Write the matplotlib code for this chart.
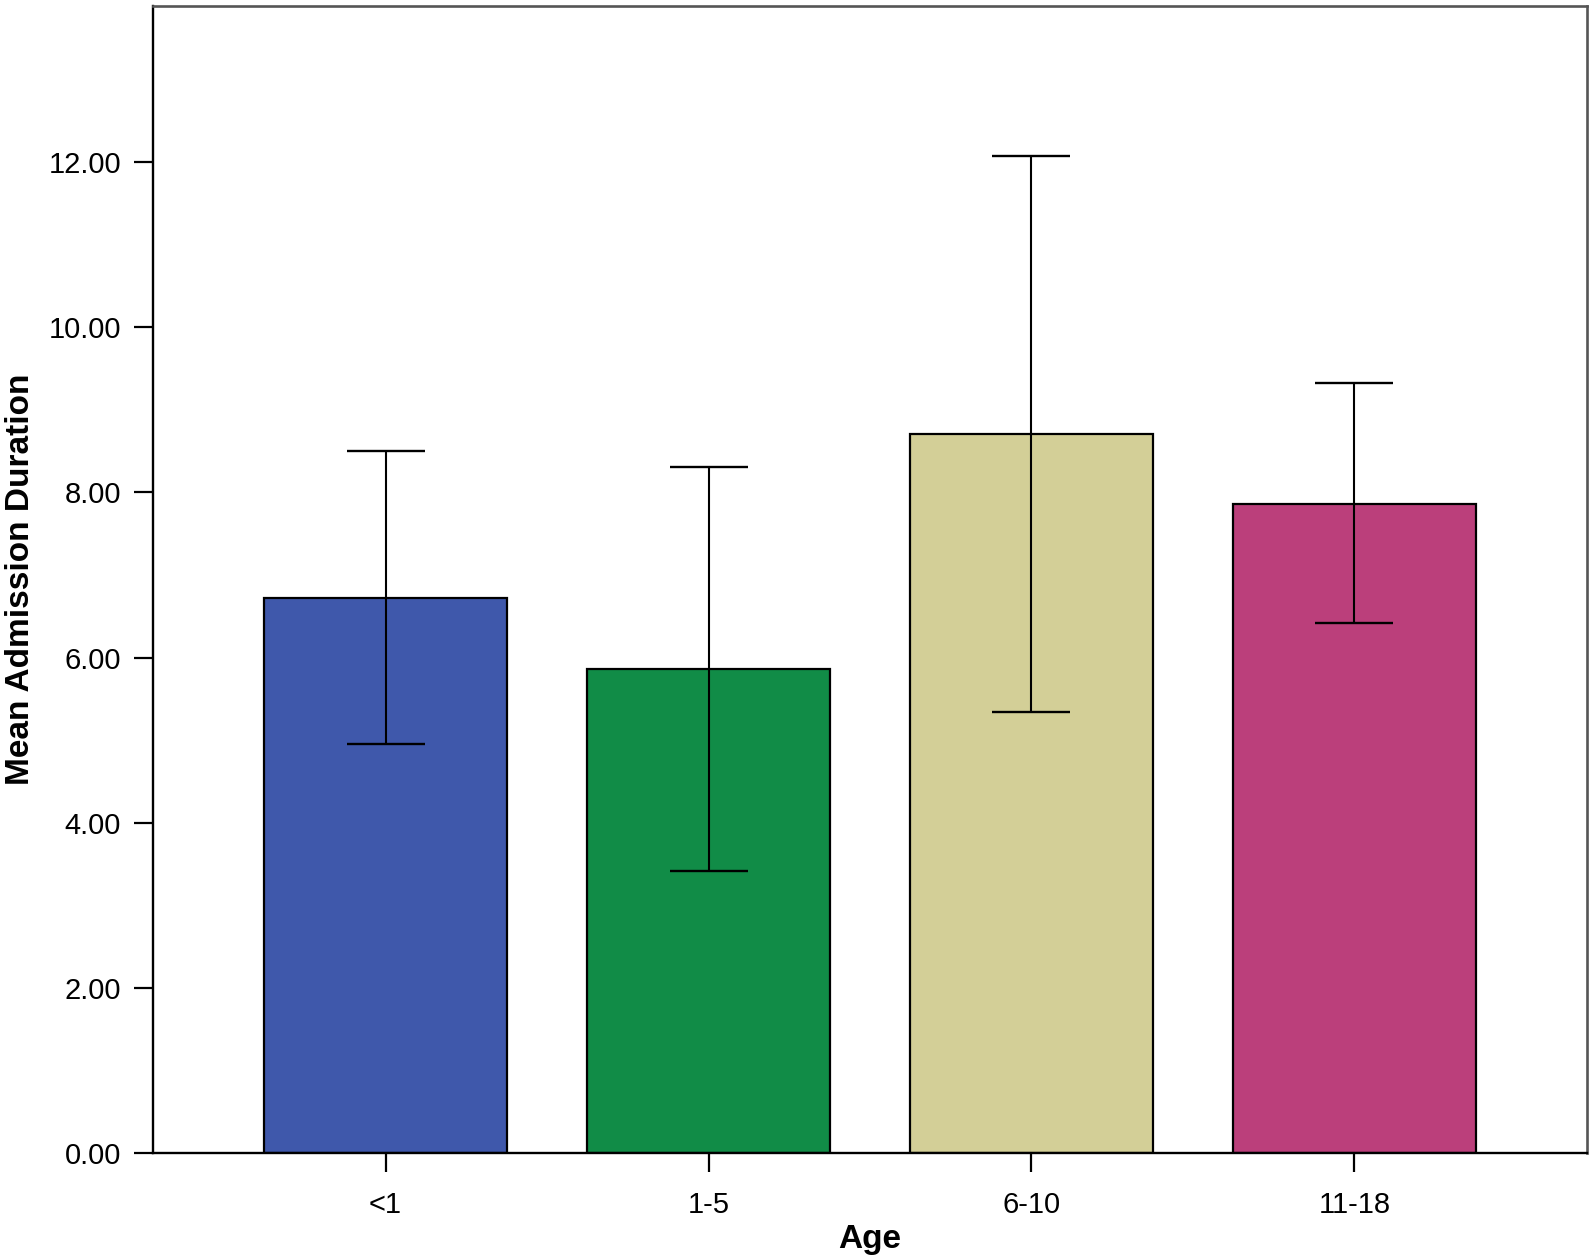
import matplotlib
matplotlib.use("Agg")
import matplotlib.pyplot as plt

# values
ages = ['<1', '1-5', '6-10', '11-18']
mean_days = [6.72, 5.86, 8.71, 7.86]
ci_low = [4.95, 3.41, 5.34, 6.42]
ci_high = [8.50, 8.31, 12.08, 9.32]
bar_colors = ['#3f58ab', '#118c47', '#d3cf97', '#bb3f7b']
y_ticks = [0, 2, 4, 6, 8, 10, 12]

plt.rcParams['font.family'] = ['Liberation Sans', 'DejaVu Sans']

fig = plt.figure(figsize=(15.94, 12.57), dpi=100)
ax = fig.add_axes([0.096, 0.0827, 0.8996, 0.9125])

x = list(range(len(ages)))
err = [[m - lo for m, lo in zip(mean_days, ci_low)],
       [hi - m for m, hi in zip(mean_days, ci_high)]]
ax.bar(x, mean_days, width=0.752, color=bar_colors, edgecolor='black', linewidth=1.6, zorder=2)
ax.errorbar(x, mean_days, yerr=err, fmt='none', ecolor='black', elinewidth=1.5,
            capsize=28, capthick=1.7, zorder=3)

ax.set_xlim(-0.72, 3.72)
ax.set_ylim(0, 13.89)
ax.set_yticks(y_ticks)
ax.set_yticklabels(['%.2f' % v for v in y_ticks])
ax.set_xticks(x)
ax.set_xticklabels(ages)
ax.tick_params(axis='both', direction='out', length=14, width=1.6, labelsize=21, color='black')
ax.tick_params(axis='y', pad=9)
ax.tick_params(axis='x', pad=13)

for side in ['left', 'bottom']:
    ax.spines[side].set_color('black')
    ax.spines[side].set_linewidth(1.7)
for side in ['top', 'right']:
    ax.spines[side].set_color('#555555')
    ax.spines[side].set_linewidth(1.9)

ax.set_ylabel('Mean Admission Duration', fontsize=24, fontweight='bold', labelpad=9)
ax.set_xlabel('Age', fontsize=24, fontweight='bold', labelpad=4)

fig.savefig('out.png', dpi=100, facecolor='white')
